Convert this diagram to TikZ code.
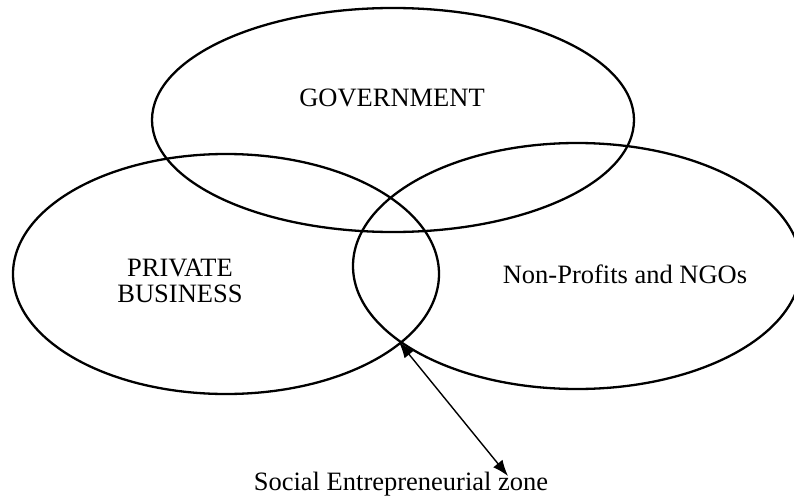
\documentclass[tikz,border=0pt]{standalone}
\usepackage{fontspec}
\setmainfont{Liberation Serif}
\usetikzlibrary{shapes.geometric,arrows.meta}

\begin{document}
\begin{tikzpicture}[x=1pt,y=1pt,
        sector/.style={draw, ellipse, line width=2.3pt, inner sep=0pt},
        sectorname/.style={font=\fontsize{26.5}{26.5}\selectfont, align=center},
        zonearrow/.style={line width=1.4pt, {Latex[length=16pt,width=12pt]}-{Latex[length=16pt,width=12pt]}}]
        \clip (0,0) rectangle (794,499);
        % the three sectors
        \node[sector, minimum width=482, minimum height=224] (gov) at (393,379) {};
        \node[sector, minimum width=426, minimum height=240] (private) at (226,225) {};
        \node[sector, minimum width=448, minimum height=246] (ngo) at (577,233) {};
        \node[sectorname, anchor=base] (govname) at (392,392) {GOVERNMENT};
        \node[sectorname] (privatename) at (180,218) {PRIVATE\\BUSINESS};
        \node[sectorname, anchor=base] (ngoname) at (625,216) {Non-Profits and NGOs};
        % now the zone where they meet
        \coordinate (zone) at (399,157);
        \coordinate (zonetip) at (508,23);
        \node[sectorname, anchor=base] (zonename) at (401,9) {Social Entrepreneurial zone};
        \draw[zonearrow] (zone) -- (zonetip);
\end{tikzpicture}
\end{document}
